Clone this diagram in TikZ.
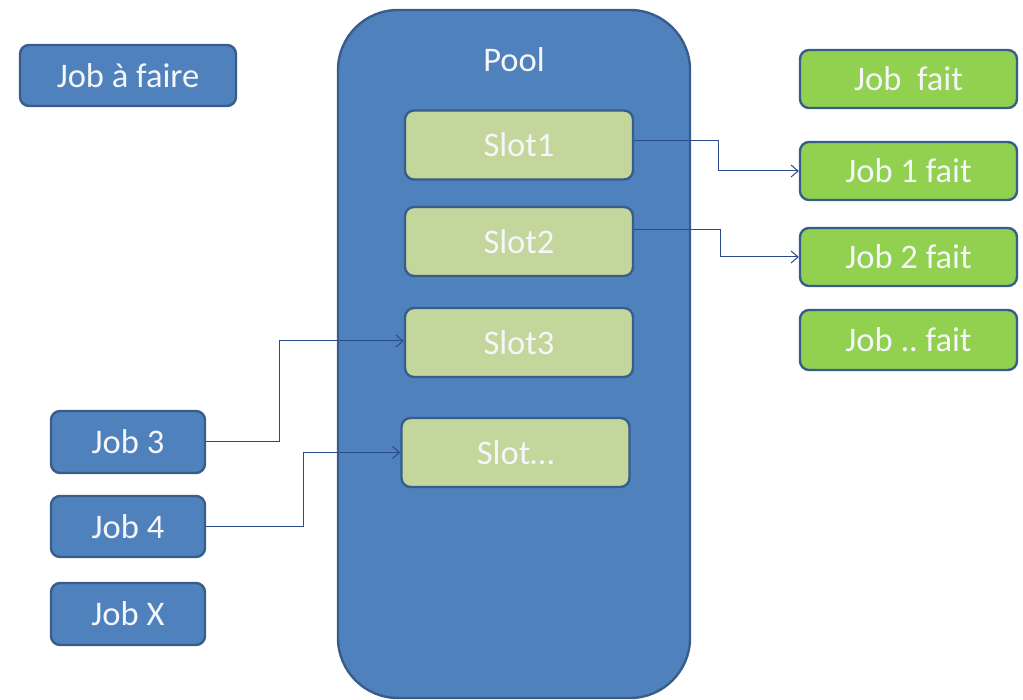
\documentclass[tikz,border=0pt]{standalone}
\usepackage{fontspec}
\setmainfont{Carlito}
\usetikzlibrary{arrows.meta}
\definecolor{boxblue}{HTML}{4F81BD}
\definecolor{edgeblue}{HTML}{385D8A}
\definecolor{slotgreen}{HTML}{C3D69B}
\definecolor{donegreen}{HTML}{92D050}
\definecolor{linkblue}{HTML}{2A4A8C}
\definecolor{txt}{HTML}{F4F6FA}
\frenchspacing
\begin{document}
\begin{tikzpicture}[x=1pt,y=-1pt,
  base/.style={draw=edgeblue,line width=2.4pt,rounded corners=9pt,inner sep=0pt,
    text=txt,font=\fontsize{34.5}{40}\selectfont},
  jobbox/.style={base,fill=boxblue},
  slotbox/.style={base,fill=slotgreen,minimum width=228pt,minimum height=69pt},
  donebox/.style={base,fill=donegreen,minimum width=217pt,minimum height=58pt},
  poolbox/.style={draw=edgeblue,line width=2.4pt,fill=boxblue,rounded corners=60pt,
    minimum width=352pt,minimum height=688pt,inner sep=0pt},
  lbl/.style={text=txt,font=\fontsize{34.5}{40}\selectfont,inner sep=0pt},
  conn/.style={draw=linkblue,line width=1pt,-{Straight Barb[length=7pt,width=12pt]}}]
\useasboundingbox (0,0) rectangle (1023,700);
% pool
\node[poolbox] (pool) at (514,354) {};
\node[lbl] (poollabel) at (514,60) {Pool};
% slots
\node[slotbox] (s1) at (519,145) {Slot1};
\node[slotbox] (s2) at (519,241.5) {Slot2};
\node[slotbox] (s3) at (519,342.5) {Slot3};
\node[slotbox] (s4) at (515.5,452.5) {Slot\dots};
% left jobs
\node[jobbox,minimum width=216pt,minimum height=61pt] (todo) at (128,75.5) {Job à faire};
\node[jobbox,minimum width=154pt,minimum height=62pt] (j3) at (128,442) {Job 3};
\node[jobbox,minimum width=154pt,minimum height=61pt] (j4) at (128,526.5) {Job 4};
\node[jobbox,minimum width=154pt,minimum height=62pt] (jx) at (128,614) {Job X};
% right done jobs
\node[donebox] (done) at (908.5,79) {Job~ fait};
\node[donebox] (d1) at (908.5,171) {Job 1 fait};
\node[donebox] (d2) at (908.5,257) {Job 2 fait};
\node[donebox,minimum height=60pt] (dn) at (908.5,340) {Job .. fait};
% connectors
\draw[conn] ([yshift=4pt]s1.east) -- ++(84,0) |- (d1.west);
\draw[conn] ([yshift=12pt]s2.east) -- ++(86,0) |- (d2.west);
\draw[conn] (j3.east) -- ++(73,0) |- ([yshift=1.5pt]s3.west);
\draw[conn] (j4.east) -- ++(97,0) |- (s4.west);
\end{tikzpicture}
\end{document}
